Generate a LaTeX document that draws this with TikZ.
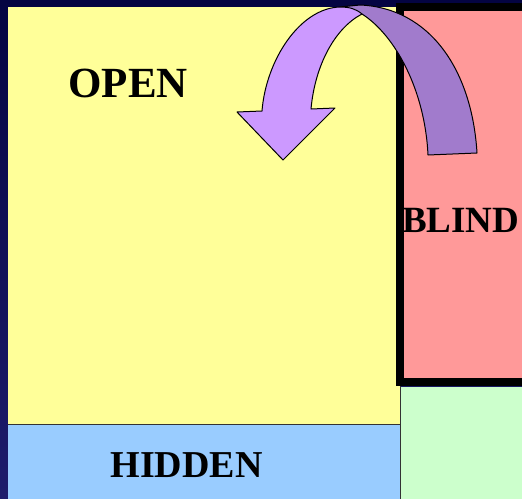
\documentclass[tikz,border=0pt]{standalone}
\usepackage{fontspec}
\setmainfont{Liberation Serif}
\definecolor{navytop}{RGB}{4,4,66}
\definecolor{navybot}{RGB}{30,28,108}
\definecolor{openyellow}{RGB}{255,255,153}
\definecolor{hiddenblue}{RGB}{153,204,255}
\definecolor{blindred}{RGB}{255,153,153}
\definecolor{unkgreen}{RGB}{204,255,204}
\definecolor{arrowlight}{RGB}{204,153,255}
\definecolor{arrowdark}{RGB}{161,123,204}
\tikzset{
  region/.style={draw=black!80, line width=0.8pt},
  arrowpart/.style={draw=black, line width=1pt, line join=round},
  label/.style={font=\bfseries, text=black, inner sep=0pt, anchor=base}
}
\begin{document}
\begin{tikzpicture}[x=1pt,y=-1pt]
\useasboundingbox (0,0) rectangle (522,498);
% background
\shade[top color=navytop, bottom color=navybot] (0,0) rectangle (522,498);
% regions
\fill[unkgreen] (400,387) rectangle (524,500);
\draw[region] (400,387) -- (400,500);
\fill[hiddenblue] (8,424) rectangle (400,500);
\fill[openyellow] (8,7) rectangle (400,424);
\draw[region] (8,424) -- (400,424) -- (400,500);
\draw[region] (400,7) -- (400,424);
\fill[blindred] (400,7) rectangle (530,382);
\draw[line width=8pt, black] (530,7) -- (400,7) -- (400,382) -- (530,382);
% text
\node[label, font=\fontsize{43}{50}\selectfont\bfseries] (open) at (128,97) {OPEN};
\node[label, font=\fontsize{38}{45}\selectfont\bfseries] (hidden) at (186.5,477) {HIDDEN};
\node[label, anchor=base west, font=\fontsize{37}{44}\selectfont\bfseries] (blind) at (402,232) {BLIND};
% curved arrow: back (dark) band
\filldraw[arrowpart, fill=arrowdark]
  (362,14) .. controls (395,35) and (425,90) .. (428,155)
  -- (477,153)
  .. controls (472,70) and (430,8) .. (360,5)
  -- (340,7) -- (345,16) -- cycle;
% curved arrow: front (light) band with head
\filldraw[arrowpart, fill=arrowlight]
  (262,111) .. controls (266,60) and (300,8) .. (340,7)
  .. controls (350,7) and (356,9) .. (362,14)
  .. controls (335,28) and (315,65) .. (311,109)
  -- (335,108) -- (283,160) -- (237,112) -- cycle;
\end{tikzpicture}
\end{document}
